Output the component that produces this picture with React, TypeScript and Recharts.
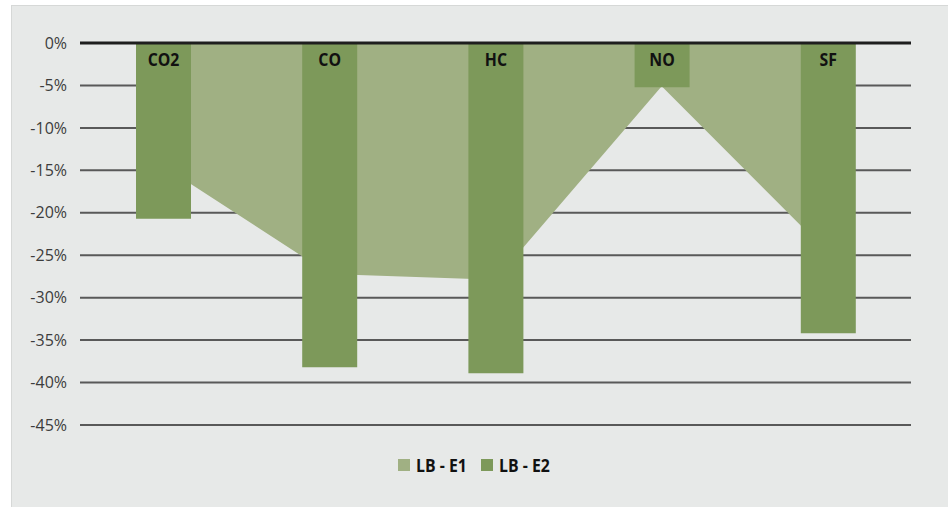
import { ComposedChart, Area, Bar, XAxis, YAxis, CartesianGrid, ReferenceLine, LabelList } from "recharts";

const categories = ["CO2", "CO", "HC", "NO", "SF"];
const lbE1 = [-14.5, -27.2, -27.9, -5.1, -24.7];
const lbE2 = [-20.7, -38.2, -38.9, -5.2, -34.2];
const yTicks = [0, -5, -10, -15, -20, -25, -30, -35, -40, -45];
const seriesNames = ["LB - E1", "LB - E2"];

const data = categories.map((name, i) => ({ name, e1: lbE1[i], e2: lbE2[i] }));

const areaColor = "#a0b083";
const barColor = "#7d995a";
const labelFont = "'Open Sans', sans-serif";

// narrow bold text (no condensed face installed, so squeeze horizontally)
function NarrowText({ x, y, children, anchor = "middle" }: any) {
  return (
    <text
      transform={`translate(${x},${y}) scale(0.88,1)`}
      textAnchor={anchor}
      fill="#111"
      fontSize={18}
      fontWeight="bold"
      fontFamily={labelFont}
    >
      {children}
    </text>
  );
}

function LegendBox() {
  const colors = [areaColor, barColor];
  const starts = [398, 481];
  return (
    <svg width={948} height={30} style={{ display: "block" }}>
      {seriesNames.map((label, i) => (
        <g key={label}>
          <rect x={starts[i]} y={9} width={12} height={12} fill={colors[i]} />
          <NarrowText x={starts[i] + 18} y={22} anchor="start">
            {label}
          </NarrowText>
        </g>
      ))}
    </svg>
  );
}

// category name drawn just under the zero line, inside each bar
const TopLabel = (props: any) => {
  const { x, y, width, height, value } = props;
  const top = Math.min(y, y + height);
  return <NarrowText x={x + width / 2} y={top + 23}>{value}</NarrowText>;
};

export default function App() {
  return (
    <div style={{ position: "absolute", left: 0, top: 0, width: 948, height: 507, background: "#fff", overflow: "hidden" }}>
      <div style={{ position: "absolute", left: 11, top: 5, width: 960, height: 520, background: "#e7e9e8", border: "1px solid #d6d8d7" }} />
      <div style={{ position: "absolute", left: 0, top: 0 }}>
        <ComposedChart width={948} height={507} data={data} margin={{ top: 43, right: 37, bottom: 82, left: 0 }}>
          <CartesianGrid vertical={false} stroke="#595959" strokeWidth={2} />
          <XAxis dataKey="name" hide />
          <YAxis
            width={80}
            domain={[-45, 0]}
            ticks={yTicks}
            tickFormatter={(v) => `${v}%`}
            axisLine={false}
            tickLine={false}
            tickSize={0}
            tickMargin={13}
            tick={{ fill: "#3c3c3c", fontSize: 16, fontFamily: "'Open Sans', sans-serif" }}
          />
          <Area type="linear" dataKey="e1" name={seriesNames[0]} fill={areaColor} fillOpacity={1} stroke="none" isAnimationActive={false} />
          <Bar dataKey="e2" name={seriesNames[1]} fill={barColor} barSize={55} isAnimationActive={false}>
            <LabelList dataKey="name" content={TopLabel} />
          </Bar>
          <ReferenceLine y={0} stroke="#1e1e1e" strokeWidth={3} />
        </ComposedChart>
      </div>
      <div style={{ position: "absolute", left: 0, top: 450 }}>
        <LegendBox />
      </div>
    </div>
  );
}
